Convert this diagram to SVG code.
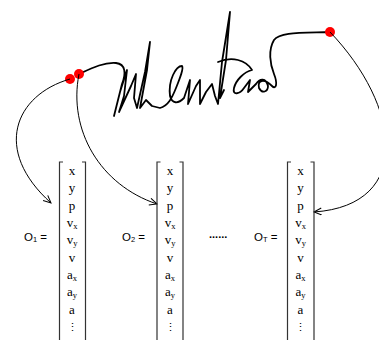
<svg xmlns="http://www.w3.org/2000/svg" width="379" height="340" viewBox="0 0 379 340">
  <style>
    .ink { fill: none; stroke: #000; stroke-width: 1.8; stroke-linejoin: round; stroke-linecap: round; }
    .conn { fill: none; stroke: #000; stroke-width: 1; }
    .pt { fill: #ff0000; }
    .br { fill: none; stroke: #333; stroke-width: 1.2; }
    .cell { font-family: "Liberation Serif", "Times New Roman", serif; font-size: 13px; fill: #000; text-anchor: middle; }
    .sub { font-size: 8.5px; }
    .lbl { font-family: "Liberation Sans", Arial, sans-serif; font-size: 11.5px; fill: #000; }
    .dots { font-family: "Liberation Sans", Arial, sans-serif; font-size: 11px; font-weight: bold; fill: #000; }
  </style>
  <defs>
    <marker id="open" markerWidth="10" markerHeight="10" refX="8" refY="4" orient="auto" markerUnits="userSpaceOnUse">
      <path d="M0.5,0.5 L8,4 L0.5,7.5" fill="none" stroke="#000" stroke-width="1"/>
    </marker>
  </defs>

  <!-- handwritten trajectory -->
  <g id="signature">
    <path class="ink" d="M79,74 C92,68 104,62 116,63 C126,64 126,74 122,84 L114,116 L120,92 L127,70 L124,96 L119,112 L131,86 L136,74 L134,98 L137,108 L145,72 L150,42 L147,70 L140,108 L146,100 L152,106 L160,108 C168,106 172,98 176,88 C180,78 184,68 182,66 C176,66 168,80 170,96 C172,104 178,104 184,98 L190,80 L188,104 L196,86 L200,80 L200,104 L206,92 L212,84 L215,96 L218,104 L222,62 L230,12 L226,60 L220,98 L224,90"/>
    <path class="ink" d="M218,62 C232,56 246,60 252,70 C244,72 236,80 234,88 C232,96 240,94 244,88 L250,80 L248,92 L256,84 C260,78 266,78 268,86 C268,92 262,94 259,88 C257,80 264,78 272,86 C276,90 278,84 274,74 C270,64 268,50 274,40 C280,32 300,33 330,32"/>
  </g>

  <g id="point-start-a"><circle class="pt" cx="70" cy="79" r="5"/></g>
  <g id="point-start-b"><circle class="pt" cx="79" cy="74" r="5"/></g>
  <g id="point-end"><circle class="pt" cx="330" cy="32" r="5"/></g>

  <!-- connectors from trajectory points to feature vectors -->
  <g id="connectors">
    <path class="conn" d="M70,79 C15,95 -8,150 51,203" marker-end="url(#open)"/>
    <path class="conn" d="M79,74 C68,130 100,185 157,204" marker-end="url(#open)"/>
    <path class="conn" d="M330,32 C400,105 415,205 314,212" marker-end="url(#open)"/>
  </g>

  <!-- feature vector O1 -->
  <g id="vector-o1">
    <text class="lbl" x="24" y="241">O<tspan font-size="7.5" dy="1">1</tspan><tspan dy="-1"> =</tspan></text>
    <path class="br" d="M63,162 H59.5 V341 M82,162 H85.5 V341"/>
    <g class="cell">
      <text x="72" y="175">x</text>
      <text x="72" y="192">y</text>
      <text x="72" y="210">p</text>
      <text x="72" y="227">v<tspan class="sub" dy="2">x</tspan></text>
      <text x="72" y="244">v<tspan class="sub" dy="2">y</tspan></text>
      <text x="72" y="262">v</text>
      <text x="72" y="279">a<tspan class="sub" dy="2">x</tspan></text>
      <text x="72" y="296">a<tspan class="sub" dy="2">y</tspan></text>
      <text x="72" y="314">a</text>
      <text x="72" y="331" font-size="11">⋮</text>
    </g>
  </g>

  <!-- feature vector O2 -->
  <g id="vector-o2">
    <text class="lbl" x="122" y="241">O<tspan font-size="7.5" dy="1">2</tspan><tspan dy="-1"> =</tspan></text>
    <path class="br" d="M160.5,162 H157 V341 M179.5,162 H183 V341"/>
    <g class="cell">
      <text x="170" y="175">x</text>
      <text x="170" y="192">y</text>
      <text x="170" y="210">p</text>
      <text x="170" y="227">v<tspan class="sub" dy="2">x</tspan></text>
      <text x="170" y="244">v<tspan class="sub" dy="2">y</tspan></text>
      <text x="170" y="262">v</text>
      <text x="170" y="279">a<tspan class="sub" dy="2">x</tspan></text>
      <text x="170" y="296">a<tspan class="sub" dy="2">y</tspan></text>
      <text x="170" y="314">a</text>
      <text x="170" y="331" font-size="11">⋮</text>
    </g>
  </g>

  <g id="ellipsis"><text class="dots" x="209" y="238">......</text></g>

  <!-- feature vector OT -->
  <g id="vector-ot">
    <text class="lbl" x="254" y="241">O<tspan font-size="7.5" dy="1">T</tspan><tspan dy="-1"> =</tspan></text>
    <path class="br" d="M291,162 H287.5 V341 M310.5,162 H314 V341"/>
    <g class="cell">
      <text x="300.5" y="175">x</text>
      <text x="300.5" y="192">y</text>
      <text x="300.5" y="210">p</text>
      <text x="300.5" y="227">v<tspan class="sub" dy="2">x</tspan></text>
      <text x="300.5" y="244">v<tspan class="sub" dy="2">y</tspan></text>
      <text x="300.5" y="262">v</text>
      <text x="300.5" y="279">a<tspan class="sub" dy="2">x</tspan></text>
      <text x="300.5" y="296">a<tspan class="sub" dy="2">y</tspan></text>
      <text x="300.5" y="314">a</text>
      <text x="300.5" y="331" font-size="11">⋮</text>
    </g>
  </g>
</svg>
